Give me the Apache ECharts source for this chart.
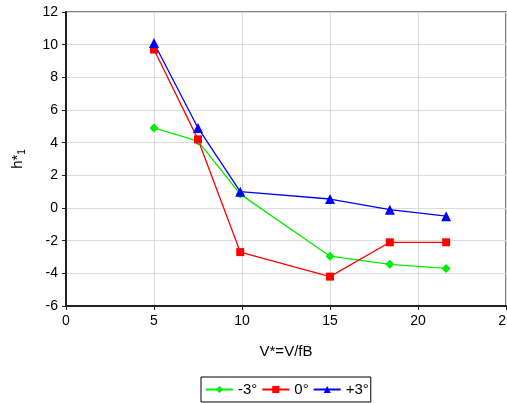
<!DOCTYPE html>
<html>
<head>
<meta charset="utf-8">
<script src="https://cdn.jsdelivr.net/npm/echarts@6/dist/echarts.min.js"></script>
<style>
  html, body { margin: 0; padding: 0; background: #fff; }
  #chart { width: 507px; height: 403px; }
</style>
</head>
<body>
<div id="chart"></div>
<script>
// x positions (V*=V/fB)
const xVals = [5, 7.5, 9.9, 15, 18.4, 21.6]
const seriesNames = ['-3°', '0°', '+3°']
const minus3 = [4.9, 4.1, 0.85, -2.95, -3.45, -3.7]
const zero = [9.7, 4.2, -2.7, -4.2, -2.1, -2.1]
const plus3 = [10.1, 4.9, 1.0, 0.55, -0.1, -0.5]

const pairs = vals => xVals.map((x, i) => [x, vals[i]])

const chart = echarts.init(document.getElementById('chart'))
const font = 'Liberation Sans, Arial, sans-serif'
const gridLine = { color: '#dcdcdc', width: 1 }

chart.setOption({
  animation: false,
  textStyle: { fontFamily: font },
  grid: {
    left: 66, right: 1, top: 12, bottom: 97,
    outerBoundsMode: 'none', containLabel: false,
    show: true, borderColor: '#7f7f7f', borderWidth: 2
  },
  xAxis: {
    type: 'value', min: 0, max: 25, interval: 5,
    name: 'V*=V/fB', nameLocation: 'middle', nameGap: 38,
    nameTextStyle: { fontSize: 15, color: '#000' },
    axisLine: { show: true, onZero: false, lineStyle: { color: '#222', width: 2 } },
    axisTick: { show: true, length: 4, lineStyle: { color: '#222' } },
    axisLabel: { fontSize: 14, color: '#000', margin: 8, hideOverlap: false },
    splitLine: { show: true, lineStyle: gridLine }
  },
  yAxis: {
    type: 'value', min: -6, max: 12, interval: 2,
    name: '{a|h*}{s|1}', nameLocation: 'middle', nameGap: 39,
    nameTextStyle: {
      rich: {
        a: { fontSize: 15, color: '#000', fontFamily: font },
        s: { fontSize: 10, color: '#000', fontFamily: font, padding: [8, 0, 0, 0] }
      }
    },
    axisLine: { show: true, onZero: false, lineStyle: { color: '#222', width: 2 } },
    axisTick: { show: true, length: 4, lineStyle: { color: '#222' } },
    axisLabel: { fontSize: 14, color: '#000', margin: 8 },
    splitLine: { show: true, lineStyle: gridLine }
  },
  legend: {
    bottom: 1, left: 201,
    itemWidth: 27, itemHeight: 9, itemGap: 4,
    padding: [5, 2, 5, 4],
    borderColor: '#000', borderWidth: 1,
    textStyle: { fontSize: 15, color: '#000' },
    data: seriesNames
  },
  series: [
    {
      name: seriesNames[0], type: 'line', data: pairs(minus3),
      symbol: 'diamond', symbolSize: 9,
      itemStyle: { color: '#00ee00' }, lineStyle: { color: '#00ee00', width: 1.3 }
    },
    {
      name: seriesNames[1], type: 'line', data: pairs(zero),
      symbol: 'rect', symbolSize: 8,
      itemStyle: { color: '#ff0000' }, lineStyle: { color: '#ff0000', width: 1.3 }
    },
    {
      name: seriesNames[2], type: 'line', data: pairs(plus3),
      symbol: 'triangle', symbolSize: 10,
      itemStyle: { color: '#0000ff' }, lineStyle: { color: '#0000ff', width: 1.3 }
    }
  ]
})
</script>
</body>
</html>
